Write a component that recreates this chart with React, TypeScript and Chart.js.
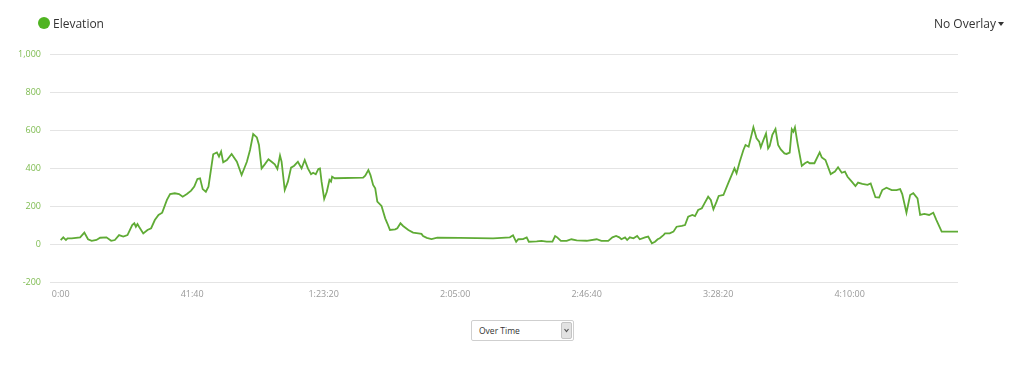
import React, { useEffect, useRef } from "react";
import { Chart, registerables } from "chart.js";

Chart.register(...registerables);

// Elapsed time in seconds
const times = [0,50,100,130,210,370,450,520,590,680,750,870,960,1030,1110,1190,1270,1360,1400,1430,1460,1490,1570,1650,1720,1790,1860,1930,2020,2080,2170,2250,2320,2400,2480,2540,2600,2650,2700,2760,2810,2900,2970,3010,3050,3090,3160,3250,3350,3440,3540,3600,3660,3730,3770,3820,3880,3950,4010,4070,4120,4170,4200,4260,4320,4380,4440,4510,4580,4640,4700,4760,4800,4850,4900,4930,4960,5010,5060,5110,5140,5160,5210,5750,5790,
5850,5890,5940,5980,6020,6100,6170,6210,6260,6360,6400,6460,6510,6610,6700,6800,6860,6890,6960,7050,7160,7590,8220,8540,8600,8660,8700,8790,8860,8900,9050,9140,9240,9350,9400,9440,9510,9620,9710,9810,10000,10190,10280,10410,10490,10560,10620,10660,10730,10770,10820,10890,10960,11010,11110,11170,11240,11300,11350,11390,
11460,11490,11580,11650,11710,11810,11870,11930,12010,12060,12120,12190,12240,12310,12360,12410,12470,12510,12600,12690,12810,12850,12910,12980,13020,13080,13170,13230,13280,13310,13360,13410,13450,13480,13530,13590,13640,13690,13760,13800,13860,13900,13930,13960,14010,14090,14150,14200,14240,14330,14430,14470,14540,14640,14720,14780,14850,14910,14960,15040,15110,15160,15240,15340,15400,15490,15560,15620,15700,15800,15890,15960,16000,16080,16150,16210,16290,16340,16420,16510,16590,16650,16750,16840,17060];

// Elevation values
const elevations = [21,35,21,30,30,35,60,25,17,21,33,35,17,21,47,39,47,100,109,91,105,91,56,74,83,126,153,165,232,263,267,263,249,263,281,302,342,346,289,275,302,472,482,460,486,430,442,474,433,363,433,495,579,561,521,398,419,446,433,419,395,465,433,284,328,402,412,433,398,442,398,367,375,367,395,398,328,237,275,337,328,354,346,349,360,
389,363,311,293,223,200,135,109,74,77,83,109,95,74,60,56,53,42,32,26,33,32,30,35,46,11,25,26,35,12,14,16,12,12,42,35,16,16,25,19,17,25,16,16,35,42,35,25,35,21,35,30,42,25,35,39,4,12,25,30,
47,56,56,65,91,95,100,144,153,147,179,188,214,249,232,183,223,253,258,319,398,372,433,495,521,512,614,556,539,509,547,582,503,516,574,605,521,498,477,474,481,604,591,614,530,411,425,433,425,425,482,456,442,368,381,404,375,381,354,328,305,323,316,311,319,246,244,284,296,284,284,289,263,165,258,267,240,153,158,153,165,126,65,65,65];

const xTickValues = [0, 2500, 5000, 7500, 10000, 12500, 15000];
const xMin = -203;
const xMax = 17060;
const yMin = -200;
const yMax = 1000;
const yStep = 200;

const seriesName = "Elevation";
const overlayLabel = "No Overlay";
const modeLabel = "Over Time";

function fmtTime(s: number): string {
  const h = Math.floor(s / 3600);
  const m = Math.floor((s % 3600) / 60);
  const sec = Math.round(s % 60);
  const pad = (n: number) => String(n).padStart(2, "0");
  if (h > 0) return `${h}:${pad(m)}:${pad(sec)}`;
  return `${m}:${pad(sec)}`;
}

const LINE = "#5fab35";
const FONT = "'Open Sans', sans-serif";

export default function App() {
  const ref = useRef<HTMLCanvasElement>(null);
  useEffect(() => {
    if (!ref.current) return;
    const data = times.map((t, i) => ({ x: t, y: elevations[i] }));
    const chart = new Chart(ref.current, {
      type: "line",
      data: {
        datasets: [
          {
            label: seriesName,
            data,
            borderColor: LINE,
            borderWidth: 1.8,
            pointRadius: 0,
            tension: 0,
            fill: false,
          },
        ],
      },
      options: {
        animation: false,
        responsive: false,
        devicePixelRatio: 1,
        layout: { padding: { left: 0, right: 66, top: 54, bottom: 0 } },
        plugins: { legend: { display: false }, tooltip: { enabled: false } },
        scales: {
          x: {
            type: "linear",
            min: xMin,
            max: xMax,
            grid: { display: false, drawTicks: false },
            border: { display: false },
            afterBuildTicks: (scale: any) => {
              scale.ticks = xTickValues.map((v) => ({ value: v }));
            },
            afterFit: (scale: any) => {
              scale.height = 95;
            },
            ticks: {
              autoSkip: false,
              maxRotation: 0,
              padding: 7,
              color: "#999999",
              font: { family: FONT, size: 9 },
              callback: (v: any) => fmtTime(Number(v)),
            },
          },
          y: {
            min: yMin,
            max: yMax,
            grid: { color: "#e4e4e4", lineWidth: 1, drawTicks: false },
            border: { display: false },
            afterFit: (scale: any) => {
              scale.width = 50;
            },
            ticks: {
              stepSize: yStep,
              padding: 9,
              color: "#7dbb4f",
              font: { family: FONT, size: 9 },
            },
          },
        },
      },
    });
    return () => chart.destroy();
  }, []);

  return (
    <div
      style={{
        position: "fixed",
        left: 0,
        top: 0,
        width: 1024,
        height: 377,
        background: "#fff",
        fontFamily: FONT,
        overflow: "hidden",
      }}
    >
      <canvas
        ref={ref}
        width={1024}
        height={377}
        style={{ position: "absolute", left: 0, top: 0, width: 1024, height: 377, display: "block" }}
      />
      <div
        style={{
          position: "absolute",
          left: 38,
          top: 14,
          height: 18,
          display: "flex",
          alignItems: "center",
          fontSize: 12,
          color: "#333",
        }}
      >
        <span
          style={{
            display: "inline-block",
            width: 12,
            height: 12,
            borderRadius: "50%",
            background: "#4fb421",
            marginRight: 3,
          }}
        />
        <span>{seriesName}</span>
      </div>
      <div
        style={{
          position: "absolute",
          right: 20,
          top: 14,
          height: 18,
          display: "flex",
          alignItems: "center",
          fontSize: 12,
          color: "#333",
        }}
      >
        <span>{overlayLabel}</span>
        <span
          style={{
            display: "inline-block",
            width: 0,
            height: 0,
            marginLeft: 2,
            marginTop: 2,
            borderLeft: "3px solid transparent",
            borderRight: "3px solid transparent",
            borderTop: "4px solid #333",
          }}
        />
      </div>
      <div
        style={{
          position: "absolute",
          left: 471,
          top: 320,
          width: 101,
          height: 19,
          border: "1px solid #cfcfcf",
          borderRadius: 2,
          background: "#fff",
          boxSizing: "content-box",
          fontSize: 8.5,
          color: "#333",
        }}
      >
        <span style={{ position: "absolute", left: 7, top: 0, lineHeight: "19px" }}>{modeLabel}</span>
        <span
          style={{
            position: "absolute",
            right: 1,
            top: 1,
            width: 11,
            height: 17,
            background: "#e2e2e2",
            border: "1px solid #c4c4c4",
            boxSizing: "border-box",
            borderRadius: 2,
          }}
        >
          <svg width="9" height="15" style={{ position: "absolute", left: 0, top: 0 }}>
            <polyline points="2.5,6 4.5,8.5 6.5,6" fill="none" stroke="#555" strokeWidth="1.2" />
          </svg>
        </span>
      </div>
    </div>
  );
}
